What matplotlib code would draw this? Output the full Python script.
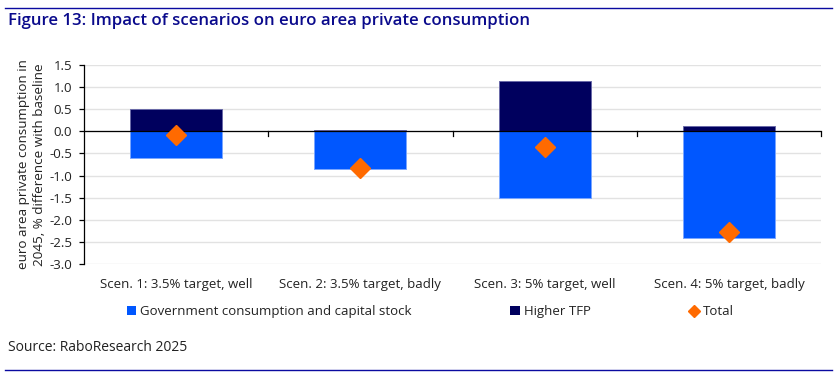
"""Impact of scenarios on euro area private consumption."""

import matplotlib

matplotlib.use("Agg")
import matplotlib.pyplot as plt
from matplotlib.lines import Line2D
from matplotlib.patches import Patch
import numpy as np

plt.rcParams["font.family"] = ["Open Sans", "DejaVu Sans"]

scenarios = [
    "Scen. 1: 3.5% target, well",
    "Scen. 2: 3.5% target, badly",
    "Scen. 3: 5% target, well",
    "Scen. 4: 5% target, badly",
]
gov_capital = [-0.60, -0.86, -1.50, -2.41]
higher_tfp = [0.51, 0.04, 1.13, 0.13]
total = [-0.09, -0.82, -0.36, -2.28]
yticks = [1.5, 1.0, 0.5, 0.0, -0.5, -1.0, -1.5, -2.0, -2.5, -3.0]

GOV_COLOR = "#0057ff"
TFP_COLOR = "#00005e"
TOTAL_COLOR = "#ff6a00"
TITLE_COLOR = "#0a0a8c"
TEXT_COLOR = "#222222"

fig = plt.figure(figsize=(8.37, 3.78), dpi=100)
ax = fig.add_axes([0.1004, 0.3016, 0.8805, 0.5265])

x = np.arange(len(scenarios))
ax.bar(x, gov_capital, width=0.5, color=GOV_COLOR, edgecolor="#7aa6ff", linewidth=0.7, zorder=2)
ax.bar(x, higher_tfp, width=0.5, color=TFP_COLOR, edgecolor="#6a6aa8", linewidth=0.7, zorder=2)
ax.plot(x, total, linestyle="none", marker="D", markersize=10.5, color=TOTAL_COLOR, zorder=3)

ax.set_xlim(-0.5, len(scenarios) - 0.5)
ax.set_ylim(-3.0, 1.5)
ax.set_yticks(yticks)
ax.set_yticklabels([f"{v:.1f}" for v in yticks], fontsize=9.5, color=TEXT_COLOR)
ax.yaxis.grid(True, color="#e2e2e2", linewidth=1.0, zorder=0)
ax.set_axisbelow(True)

for side in ["top", "right", "bottom"]:
    ax.spines[side].set_visible(False)
ax.spines["left"].set_color("black")
ax.spines["left"].set_linewidth(0.9)
ax.tick_params(axis="y", direction="out", length=3.6, width=0.9, pad=5)

# zero line with category separator ticks
ax.axhline(0, color="black", linewidth=0.9, zorder=2.5)
ax.set_xticks([])
for b in np.arange(0.5, len(scenarios), 1.0):
    ax.plot([b, b], [0, -0.11], color="black", linewidth=0.9, zorder=2.5, clip_on=False)

for i, lab in enumerate(scenarios):
    ax.text(i, -3.47, lab, ha="center", va="center", fontsize=9.5, color=TEXT_COLOR)

ax.set_ylabel("euro area private consumption in\n2045, % difference with baseline",
              fontsize=9.7, color=TEXT_COLOR, labelpad=2, linespacing=1.3)

handles = [
    Patch(facecolor=GOV_COLOR, label="Government consumption and capital stock"),
    Patch(facecolor=TFP_COLOR, label="Higher TFP"),
    Line2D([], [], linestyle="none", marker="D", markersize=6, color=TOTAL_COLOR, label="Total"),
]
fig.legend(handles=handles, loc="center", bbox_to_anchor=(0.514, 0.175), ncol=3,
           frameon=False, fontsize=9.5, handlelength=0.7, handleheight=0.7,
           handletextpad=0.3, columnspacing=7.5, labelcolor=TEXT_COLOR)

fig.text(0.009, 0.944, "Figure 13: Impact of scenarios on euro area private consumption",
         fontsize=12.1, color=TITLE_COLOR, fontweight="semibold", va="center")
fig.text(0.009, 0.082, "Source: RaboResearch 2025", fontsize=10, color=TEXT_COLOR, va="center")

fig.add_artist(Line2D([0.006, 0.994], [0.979, 0.979], color="#0a0aa0", linewidth=1.0))
fig.add_artist(Line2D([0.006, 0.994], [0.021, 0.021], color="#0a0aa0", linewidth=1.0))

fig.savefig("out.png", dpi=100)
plt.close(fig)
